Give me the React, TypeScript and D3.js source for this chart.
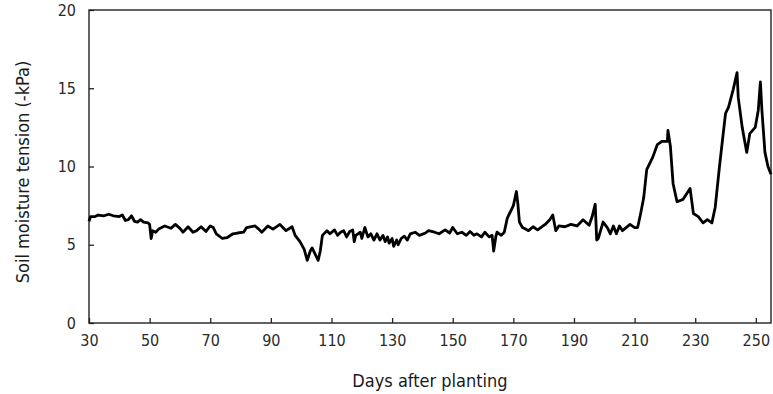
import { useRef, useEffect } from 'react';
import * as d3 from 'd3';

// days after planting and soil moisture tension (-kPa)
const days = [
  30, 30.5, 32, 33, 35, 36.5, 38, 40, 41, 42, 43, 44, 45, 46, 47, 48, 49.5, 50, 50.5, 51,
  52, 53, 55, 57, 58.5, 60, 61, 62.7, 64.3, 65.5, 67, 68.6, 70, 71, 72, 74, 75.5, 77.5, 79, 81,
  82, 84.8, 86, 87, 89, 90.7, 93, 95, 97, 98, 99.6, 101, 102, 103, 103.6, 104.6, 105.6, 106.3, 107, 108.5,
  109.5, 111, 112, 113, 114, 115, 116, 117, 117.5, 118, 119.5, 120, 121, 122, 123, 124, 125, 126, 127, 127.7,
  128.5, 129, 130, 130.5, 131.5, 132, 133, 134, 135, 136, 137.6, 139, 141, 142, 144, 145.5, 147.5, 149, 150, 151.5,
  153, 154.5, 155.7, 157, 158, 159.5, 160.6, 162, 163, 163.5, 164.2, 164.6, 166, 167, 168, 170, 171, 171.5, 172, 173,
  174, 175, 176.5, 178, 180.5, 182, 183, 184, 185, 187, 189, 191, 193, 195, 196, 197, 197.5, 198, 199.6, 201,
  202, 203, 204, 205, 206, 208.5, 210, 211, 212, 213, 214, 216, 217.5, 219, 220.8, 221, 221.8, 222.7, 224, 226,
  228.3, 229.4, 231, 232.6, 234, 235.5, 236.6, 238, 240, 241, 242.5, 243.8, 244.2, 245.5, 247, 248, 249.8, 250.8, 251.5, 252,
  253, 254, 255,
];
const tension = [
  6.5, 6.8, 6.8, 6.9, 6.85, 6.95, 6.85, 6.8, 6.9, 6.55, 6.6, 6.85, 6.5, 6.45, 6.6, 6.45, 6.4, 6.3, 5.4, 5.9,
  5.8, 6.0, 6.2, 6.05, 6.3, 6.05, 5.8, 6.15, 5.8, 5.9, 6.15, 5.85, 6.2, 6.1, 5.7, 5.4, 5.45, 5.7, 5.75, 5.8,
  6.1, 6.2, 6.0, 5.8, 6.2, 6.0, 6.3, 5.9, 6.15, 5.6, 5.2, 4.7, 4.0, 4.6, 4.8, 4.4, 4.0, 4.6, 5.6, 5.9,
  5.7, 5.95, 5.6, 5.8, 5.9, 5.5, 5.85, 5.95, 5.2, 5.6, 5.8, 5.4, 6.1, 5.5, 5.7, 5.3, 5.7, 5.3, 5.6, 5.2,
  5.5, 5.1, 5.4, 4.9, 5.3, 5.0, 5.4, 5.55, 5.3, 5.7, 5.8, 5.6, 5.75, 5.9, 5.8, 5.7, 5.95, 5.75, 6.1, 5.7,
  5.8, 5.6, 5.85, 5.6, 5.7, 5.5, 5.8, 5.5, 5.6, 4.6, 5.5, 5.8, 5.6, 5.8, 6.7, 7.5, 8.4, 7.6, 6.45, 6.1,
  6.0, 5.9, 6.15, 5.95, 6.3, 6.6, 6.9, 5.9, 6.2, 6.15, 6.3, 6.2, 6.6, 6.25, 6.8, 7.6, 5.3, 5.4, 6.45, 6.1,
  5.7, 6.2, 5.7, 6.2, 5.9, 6.3, 6.1, 6.1, 7.0, 8.0, 9.8, 10.6, 11.4, 11.6, 11.6, 12.3, 11.3, 8.9, 7.75, 7.9,
  8.6, 7.0, 6.8, 6.4, 6.6, 6.4, 7.4, 10.0, 13.4, 13.8, 14.9, 16.0, 14.4, 12.5, 10.9, 12.1, 12.5, 13.6, 15.4, 13.6,
  10.9, 10.0, 9.5,
];
const xTicks = [30, 50, 70, 90, 110, 130, 150, 170, 190, 210, 230, 250];
const yTicks = [0, 5, 10, 15, 20];

const W = 773;
const H = 394;
const margin = { top: 10, right: 2, bottom: 71, left: 89 };
const font = '"DejaVu Sans", sans-serif';

const SoilChart = () => {
  const svgRef = useRef<SVGSVGElement>(null);

  useEffect(() => {
    const svg = d3.select(svgRef.current);
    svg.selectAll('*').remove();

    const innerW = W - margin.left - margin.right;
    const innerH = H - margin.top - margin.bottom;

    const x = d3.scaleLinear().domain([30, 255]).range([0, innerW]);
    const y = d3.scaleLinear().domain([0, 20]).range([innerH, 0]);

    const g = svg.append('g').attr('transform', `translate(${margin.left},${margin.top})`);

    // inward ticks
    const xAxis = g.append('g')
      .attr('transform', `translate(0,${innerH})`)
      .call(d3.axisBottom(x).tickValues(xTicks).tickSize(-5).tickPadding(12));
    xAxis.select('.domain').remove();
    xAxis.selectAll('.tick line').attr('stroke', '#222').attr('stroke-width', 1.3);
    xAxis.selectAll('text')
      .attr('font-family', font)
      .attr('font-stretch', 'condensed')
      .attr('font-size', 16)
      .attr('fill', '#2a2a2a');

    const yAxis = g.append('g')
      .call(d3.axisLeft(y).tickValues(yTicks).tickSize(-5).tickPadding(13));
    yAxis.select('.domain').remove();
    yAxis.selectAll('.tick line').attr('stroke', '#222').attr('stroke-width', 1.3);
    yAxis.selectAll('text')
      .attr('font-family', font)
      .attr('font-stretch', 'condensed')
      .attr('font-size', 16)
      .attr('fill', '#2a2a2a');

    // frame
    g.append('rect')
      .attr('x', 0)
      .attr('y', 0)
      .attr('width', innerW)
      .attr('height', innerH)
      .attr('fill', 'none')
      .attr('stroke', '#222')
      .attr('stroke-width', 1.4);

    const line = d3.line<number>()
      .x((_d, i) => x(days[i]))
      .y((d) => y(d));

    g.append('path')
      .datum(tension)
      .attr('d', line)
      .attr('fill', 'none')
      .attr('stroke', '#000')
      .attr('stroke-width', 2.8)
      .attr('stroke-linejoin', 'round');

    svg.append('text')
      .attr('x', margin.left + innerW / 2)
      .attr('y', 387)
      .attr('text-anchor', 'middle')
      .attr('font-family', font)
      .attr('font-stretch', 'condensed')
      .attr('font-size', 18)
      .attr('fill', '#1a1a1a')
      .text('Days after planting');

    svg.append('text')
      .attr('transform', `translate(29,172) rotate(-90)`)
      .attr('text-anchor', 'middle')
      .attr('font-family', font)
      .attr('font-stretch', 'condensed')
      .attr('font-size', 18)
      .attr('fill', '#1a1a1a')
      .text('Soil moisture tension (-kPa)');
  }, []);

  return <svg ref={svgRef} width={W} height={H} style={{ position: 'absolute', left: 0, top: 0, background: '#fff' }} />;
};

export default function App() {
  return <SoilChart />;
}
